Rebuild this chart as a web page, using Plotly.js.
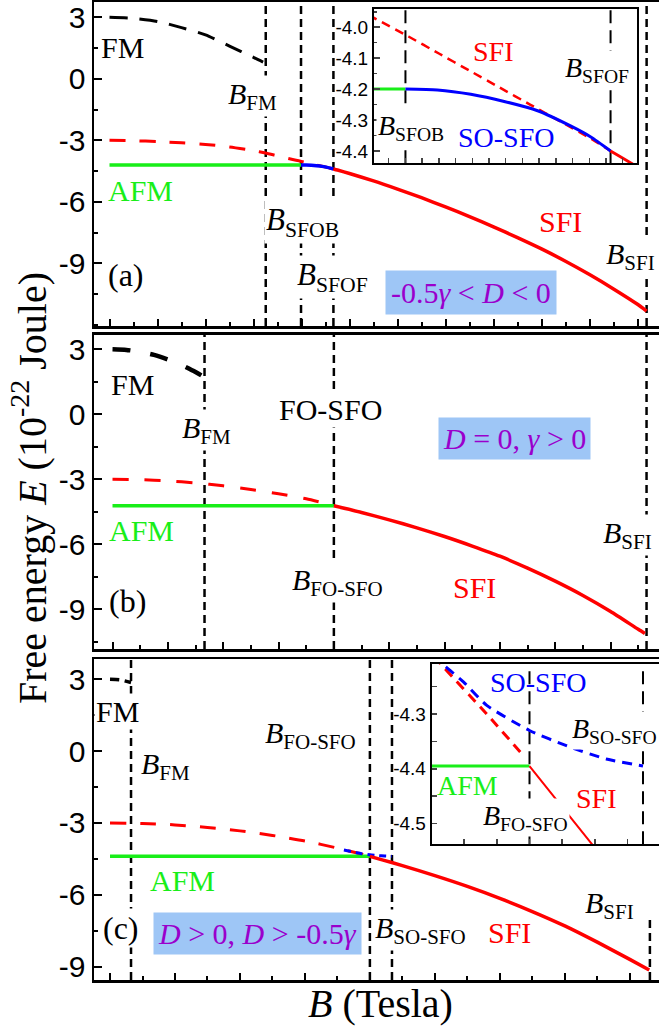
<!DOCTYPE html>
<html><head><meta charset="utf-8">
<script src="https://cdn.plot.ly/plotly-3.0.1.min.js"></script>
<style>html,body{margin:0;padding:0;background:#fff;overflow:hidden}</style>
</head><body><div id="chart" style="width:659px;height:1031px"></div>
<script>
// ---------- DATA ----------
// tick labels
const yTickVals = [3, 0, -3, -6, -9];
const yTickText = ['3', '0', '-3', '-6', '-9'];
const insetATickVals = [-4.0, -4.1, -4.2, -4.3, -4.4];
const insetATickText = ['-4.0', '-4.1', '-4.2', '-4.3', '-4.4'];
const insetCTickVals = [-4.3, -4.4, -4.5];
const insetCTickText = ['-4.3', '-4.4', '-4.5'];

// panel (a): -0.5γ < D < 0
const aFM_B = [0, 1, 2, 3, 4, 5, 6, 6.4];
const aFM_E = [3.0, 2.95, 2.8, 2.5, 2.15, 1.6, 1.05, 0.82];
const aSFI_B = [0, 1, 2, 3, 4, 5, 6, 6.5, 7, 7.5, 7.773, 8, 8.2, 8.4, 8.6, 8.8, 9, 9.2, 9.33, 9.5, 10, 11, 12, 13, 14, 15, 16, 17, 18, 19, 20, 21, 22, 22.38];
const aSFI_E = [-3.0, -3.02, -3.06, -3.12, -3.2, -3.32, -3.5, -3.62, -3.76, -3.9, -3.97, -4.03, -4.085, -4.14, -4.195, -4.25, -4.305, -4.36, -4.40, -4.45, -4.62, -4.98, -5.38, -5.8, -6.25, -6.72, -7.22, -7.75, -8.3, -8.9, -9.55, -10.25, -11.0, -11.33];
const aAFM_B = [0, 7.98];
const aAFM_E = [-4.2, -4.2];
const aSO_B = [7.98, 8.19, 8.41, 8.63, 8.85, 9.07, 9.2, 9.33];
const aSO_E = [-4.2, -4.203, -4.217, -4.24, -4.27, -4.32, -4.355, -4.40];
const aCrit = [6.51, 7.98, 9.33, 22.38];          // B_FM, B_SFOB, B_SFOF, B_SFI
const aSFIsplit = 9.33;

// panel (b): D = 0, γ > 0
const bFM_B = [0, 0.5, 1, 1.5, 2, 2.5, 3, 3.31];
const bFM_E = [3.0, 2.97, 2.88, 2.74, 2.53, 2.27, 1.95, 1.72];
const bSFI_B = [0, 1, 2, 3, 4, 5, 6, 7, 8, 9, 10, 11, 12, 13, 14, 15, 16, 17, 18, 19, 19.24];
const bSFI_E = [-3.0, -3.02, -3.07, -3.17, -3.3, -3.47, -3.67, -3.9, -4.22, -4.53, -4.87, -5.24, -5.64, -6.08, -6.55, -7.1, -7.7, -8.36, -9.1, -9.92, -10.11];
const bAFM_B = [0, 8];
const bAFM_E = [-4.22, -4.22];
const bCrit = [3.325, 8.0, 19.3];                  // B_FM, B_FO-SFO, B_SFI
const bSFIsplit = 8.0;

// panel (c): D > 0, D > -0.5γ
const cFM_B = [0, 0.3, 0.647];
const cFM_E = [3.0, 2.98, 2.87];
const cSFIdash_B = [0, 1, 2, 3, 4, 5, 6, 7, 7.484, 7.744, 7.964];
const cSFIdash_E = [-3.0, -3.02, -3.08, -3.19, -3.33, -3.52, -3.75, -4.05, -4.214, -4.3, -4.376];
const cSFI_B = [8, 8.38, 9, 10, 11, 12, 13, 14, 15, 16, 16.6];
const cSFI_E = [-4.395, -4.54, -4.78, -5.2, -5.65, -6.15, -6.7, -7.3, -7.98, -8.7, -9.14];
const cSO_B = [7.2, 7.484, 7.604, 7.744, 8.0, 8.24, 8.46, 8.68];
const cSO_E = [-4.13, -4.21, -4.241, -4.284, -4.33, -4.36, -4.382, -4.395];
const cAFM_B = [0, 8];
const cAFM_E = [-4.395, -4.395];
const cCrit = [0.647, 8.0, 8.68];                  // B_FM, B_FO-SFO, B_SO-SFO
const cSFIline_B = 16.62;                          // B_SFI
const cSFIline_top = -6.9;

// ---------- STYLE ----------
const RED = '#ff0000', GREEN = '#19ee19', BLUE = '#0000ff', BLACK = '#000000';
const PURPLE = '#9a00cc', BOXBG = '#9ec6f6';
const SERIF = 'Liberation Serif, Times New Roman, serif';
const SANS = 'Liberation Sans, Arial, sans-serif';
const W = 659, H = 1031, L = 94;

const rng = {
  x:  [-0.646, 22.896], y:  [-12.06, 3.75],
  x2: [-0.669, 19.75],  y2: [-10.83, 3.68],
  x3: [-0.493, 16.9],   y3: [-9.56, 3.85],
  x4: [7.773, 9.504],   y4: [-4.44, -3.942],
  x5: [7.414, 8.776],   y5: [-4.538, -4.209]
};

function tr(xs, ys, ax, color, width, dash) {
  return {type: 'scatter', mode: 'lines', x: xs, y: ys, xaxis: ax[0], yaxis: ax[1],
    line: {color: color, width: width, dash: dash || 'solid', shape: 'spline', smoothing: 0.6},
    hoverinfo: 'skip', showlegend: false};
}
function vline(b, y0, y1, ax, width, dash) {
  return {type: 'scatter', mode: 'lines', x: [b, b], y: [y0, y1], xaxis: ax[0], yaxis: ax[1],
    line: {color: BLACK, width: width, dash: dash}, hoverinfo: 'skip', showlegend: false};
}
function part(xs, ys, lo, hi) {
  const X = [], Y = [];
  xs.forEach((v, i) => { if (v >= lo && v <= hi) { X.push(v); Y.push(ys[i]); } });
  return [X, Y];
}

const A = ['x', 'y'], B = ['x2', 'y2'], C = ['x3', 'y3'], AI = ['x4', 'y4'], CI = ['x5', 'y5'];
const traces = [];
const VD = '8px,5px';

// panel a
aCrit.forEach(b => traces.push(vline(b, rng.y[0], rng.y[1], A, 2.5, VD)));
let aD = part(aSFI_B, aSFI_E, -1, aSFIsplit), aS = part(aSFI_B, aSFI_E, aSFIsplit, 99);
traces.push(tr(aD[0], aD[1], A, RED, 3, '16px,14px'));
traces.push(tr(aFM_B, aFM_E, A, BLACK, 3, '18px,12px'));
traces.push(tr(aAFM_B, aAFM_E, A, GREEN, 3.5));
traces.push(tr(aSO_B, aSO_E, A, BLUE, 3.5));
traces.push(tr(aS[0], aS[1], A, RED, 3.5));

// panel b
bCrit.forEach(b => traces.push(vline(b, rng.y2[0], rng.y2[1], B, 2.5, VD)));
let bD = part(bSFI_B, bSFI_E, -1, bSFIsplit), bS = part(bSFI_B, bSFI_E, bSFIsplit, 99);
traces.push(tr(bD[0], bD[1], B, RED, 3, '16px,16px'));
traces.push(tr(bFM_B, bFM_E, B, BLACK, 4.5, '18px,20px'));
traces.push(tr(bAFM_B, bAFM_E, B, GREEN, 3.5));
traces.push(tr(bS[0], bS[1], B, RED, 3.5));

// panel c
cCrit.forEach(b => traces.push(vline(b, rng.y3[0], rng.y3[1], C, 2.5, VD)));
traces.push(vline(cSFIline_B, rng.y3[0], cSFIline_top, C, 2.5, VD));
traces.push(tr(cSFIdash_B, cSFIdash_E, C, RED, 3, '16px,14px'));
traces.push(tr(cFM_B, cFM_E, C, BLACK, 3.5, '9px,6px'));
traces.push(tr(cAFM_B, cAFM_E, C, GREEN, 3.5));
traces.push(tr(cSO_B, cSO_E, C, BLUE, 3, '7px,5px'));
traces.push(tr(cSFI_B, cSFI_E, C, RED, 3.5));

// inset a
[aCrit[1], aCrit[2]].forEach(b => traces.push(vline(b, rng.y4[0], rng.y4[1], AI, 2, '13px,7px')));
traces.push(tr(aD[0], aD[1], AI, RED, 2.5, '9px,6px'));
traces.push(tr(aAFM_B, aAFM_E, AI, GREEN, 3));
traces.push(tr(aSO_B, aSO_E, AI, BLUE, 3));
traces.push(tr(aS[0], aS[1], AI, RED, 3));

// inset c
cCrit.slice(1).forEach(b => traces.push(vline(b, rng.y5[0], rng.y5[1], CI, 2, '13px,7px')));
traces.push(tr(cSFIdash_B, cSFIdash_E, CI, RED, 3, '10px,7px'));
traces.push(tr(cSO_B, cSO_E, CI, BLUE, 3, '10px,7px'));
traces.push(tr(cAFM_B, cAFM_E, CI, GREEN, 3));
traces.push(tr(cSFI_B, cSFI_E, CI, RED, 2));

// ---------- AXES ----------
function pdy(top, bot) { return [1 - bot / H, 1 - top / H]; }
function pdx(l, r) { return [(l - L) / (W - L), Math.min(1, (r - L) / (W - L))]; }
function mainX(r, anchor) {
  return {domain: [0, 1], range: r, anchor: anchor, showline: true, linewidth: 2.5, linecolor: BLACK,
    mirror: true, ticks: 'inside', ticklen: 7, tickwidth: 2, tickcolor: BLACK, tick0: 0, dtick: 2,
    showticklabels: false, showgrid: false, zeroline: false, fixedrange: true,
    minor: {ticks: 'inside', ticklen: 4, tickwidth: 2, tickcolor: BLACK, dtick: 1, tick0: 0, showgrid: false}};
}
function mainY(r, anchor, dom) {
  return {domain: dom, range: r, anchor: anchor, showline: true, linewidth: 2.5, linecolor: BLACK,
    mirror: false, ticks: 'inside', ticklen: 8, tickwidth: 2, tickcolor: BLACK,
    tickmode: 'array', tickvals: yTickVals, ticktext: yTickText,
    tickfont: {family: SANS, size: 30, color: BLACK}, showgrid: false, zeroline: false, fixedrange: true,
    minor: {ticks: 'inside', ticklen: 4, tickwidth: 2, tickcolor: BLACK, dtick: 1.5, tick0: 0, showgrid: false}};
}
const layout = {
  width: W, height: H, margin: {l: L, r: 0, t: 0, b: 0},
  paper_bgcolor: '#fff', plot_bgcolor: '#fff', showlegend: false, hovermode: false,
  xaxis: mainX(rng.x, 'y'), yaxis: mainY(rng.y, 'x', pdy(2, 326)),
  xaxis2: mainX(rng.x2, 'y2'), yaxis2: mainY(rng.y2, 'x2', pdy(334.5, 649)),
  xaxis3: mainX(rng.x3, 'y3'), yaxis3: mainY(rng.y3, 'x3', pdy(659, 980)),
  xaxis4: {domain: pdx(374, 637), range: rng.x4, anchor: 'y4', showline: true, linewidth: 2, linecolor: BLACK,
    mirror: true, ticks: 'inside', ticklen: 5, tickwidth: 1.5, tick0: 7.98, dtick: 0.11,
    showticklabels: false, showgrid: false, zeroline: false, fixedrange: true},
  yaxis4: {domain: pdy(9.3, 163.3), range: rng.y4, anchor: 'x4', showline: true, linewidth: 2, linecolor: BLACK,
    mirror: true, ticks: 'inside', ticklen: 6, tickwidth: 1.5, tickmode: 'array',
    tickvals: insetATickVals, ticktext: insetATickText, tickfont: {family: SANS, size: 19, color: BLACK},
    showgrid: false, zeroline: false, fixedrange: true,
    minor: {ticks: 'inside', ticklen: 3, tickwidth: 1.5, dtick: 0.05, tick0: -4, showgrid: false}},
  xaxis5: {domain: pdx(431.7, 659), range: rng.x5, anchor: 'y5', showline: true, linewidth: 2, linecolor: BLACK,
    mirror: true, ticks: 'inside', ticklen: 5, tickwidth: 1.5, tick0: 8, dtick: 0.196,
    showticklabels: false, showgrid: false, zeroline: false, fixedrange: true},
  yaxis5: {domain: pdy(664.3, 844.3), range: rng.y5, anchor: 'x5', showline: true, linewidth: 2, linecolor: BLACK,
    mirror: false, ticks: 'inside', ticklen: 5, tickwidth: 1.5, tickmode: 'array',
    tickvals: insetCTickVals, ticktext: insetCTickText, tickfont: {family: SANS, size: 19, color: BLACK},
    showgrid: false, zeroline: false, fixedrange: true,
    minor: {ticks: 'inside', ticklen: 5, tickwidth: 1.5, dtick: 0.05, tick0: -4.3, showgrid: false}},
  annotations: []
};

// ---------- LABELS ----------
function lab(text, cx, cy, o) {
  o = o || {};
  layout.annotations.push({
    text: text, xref: 'paper', yref: 'paper', x: (cx - L) / (W - L), y: 1 - cy / H,
    xanchor: 'center', yanchor: 'middle', showarrow: false, textangle: o.angle || 0,
    font: {family: SERIF, size: o.size || 30, color: o.color || BLACK},
    bgcolor: o.bg || 'rgba(0,0,0,0)', borderpad: o.pad === undefined ? 1 : o.pad
  });
}
const Bl = s => '<i>B</i><sub>' + s + '</sub>';
const WB = '#ffffff';
// panel a
lab('FM', 122, 47);
lab(Bl('FM'), 252, 96, {bg: WB});
lab('AFM', 140, 190, {color: GREEN});
lab(Bl('SFOB'), 302, 222, {bg: WB, size: 31});
lab('(a)', 126, 275, {size: 32});
lab(Bl('SFOF'), 332, 277, {bg: WB, size: 31});
lab('-0.5<i>γ</i> &lt; <i>D</i> &lt; 0', 471, 292.5, {color: PURPLE, bg: BOXBG, pad: 5});
lab('SFI', 560, 222, {color: RED});
lab(Bl('SFI'), 630, 256, {bg: WB});
// inset a
lab('SFI', 493, 52, {color: RED, size: 28});
lab(Bl('SFOF'), 597, 70, {bg: WB, size: 28});
lab(Bl('SFOB'), 411, 127, {bg: WB, size: 28});
lab('SO-SFO', 506, 137, {color: BLUE, size: 28});
// panel b
lab('FM', 132, 384);
lab(Bl('FM'), 206, 430, {bg: WB});
lab('FO-SFO', 330, 410, {bg: WB});
lab('<i>D</i> = 0, <i>γ</i> &gt; 0', 514, 439, {color: PURPLE, bg: BOXBG, pad: 4});
lab('AFM', 141, 530, {color: GREEN});
lab(Bl('FO-SFO'), 337, 582, {bg: WB});
lab('SFI', 474, 587, {color: RED});
lab(Bl('SFI'), 627, 535, {bg: WB});
lab('(b)', 127, 601, {size: 32});
// panel c
lab('FM', 117, 711, {bg: WB});
lab(Bl('FM'), 165, 766);
lab(Bl('FO-SFO'), 310, 735, {bg: WB});
lab('AFM', 182, 880, {color: GREEN});
lab('(c)', 121, 928, {size: 32, bg: WB});
lab('<i>D</i> &gt; 0, <i>D</i> &gt; -0.5<i>γ</i>', 257, 933, {color: PURPLE, bg: BOXBG, pad: 4});
lab(Bl('SO-SFO'), 420, 930, {bg: WB});
lab('SFI', 509, 932, {color: RED});
lab(Bl('SFI'), 609, 905, {bg: WB});
// inset c
lab('SO-SFO', 538, 682, {color: BLUE, size: 28});
lab(Bl('SO-SFO'), 614, 730, {bg: WB, size: 28});
lab('AFM', 467, 785, {color: GREEN, size: 28});
lab('SFI', 596, 798, {color: RED, size: 28});
lab(Bl('FO-SFO'), 525, 817, {bg: WB, size: 28});
// axis titles
lab('Free energy <i>E</i> (10<sup>-22</sup> Joule)', 30, 488, {size: 40, angle: -90});
lab('<i>B</i> (Tesla)', 380, 1003, {size: 40});

Plotly.newPlot('chart', traces, layout, {staticPlot: true, displayModeBar: false});
</script></body></html>
